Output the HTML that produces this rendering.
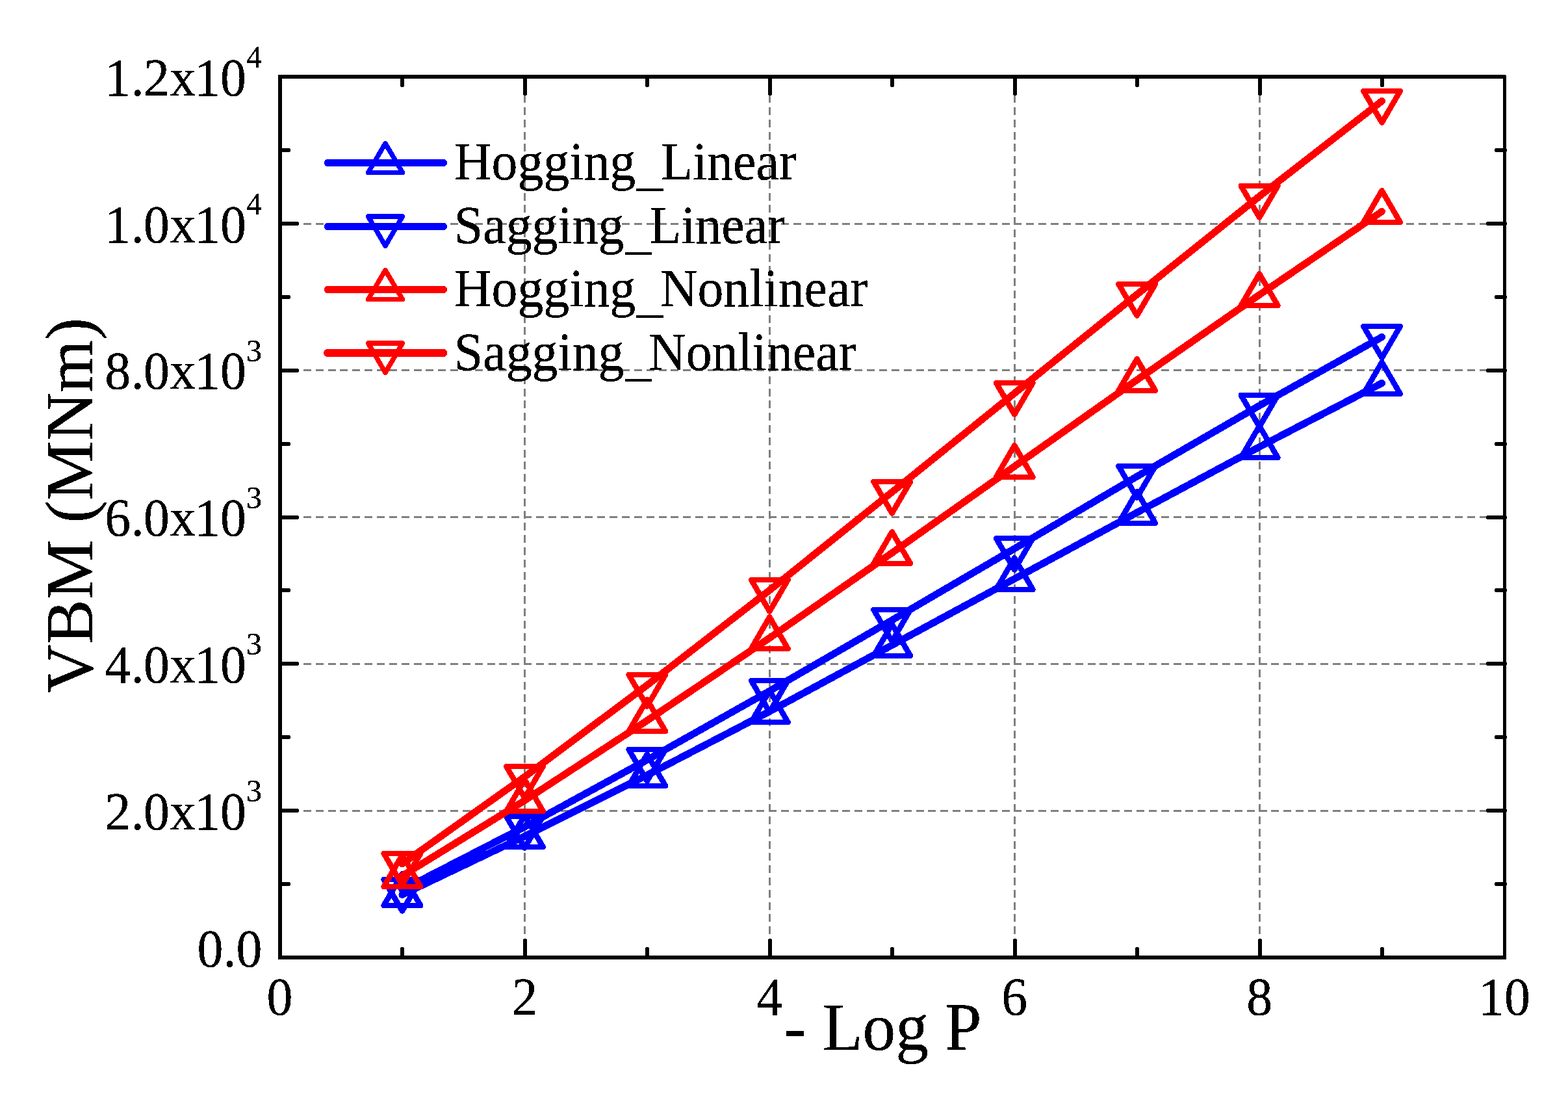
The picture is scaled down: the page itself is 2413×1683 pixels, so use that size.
<!DOCTYPE html>
<html lang="en"><head><meta charset="utf-8"><title>VBM vs - Log P</title>
<style>html,body{margin:0;padding:0;background:#fff}body{width:2413px;height:1683px;overflow:hidden}svg{display:block}text{font-family:"Liberation Serif", "DejaVu Serif", serif;fill:#000;stroke:#000;stroke-width:0.3px;stroke-linejoin:round}</style>
</head><body>
<svg width="2413" height="1683" viewBox="0 0 2413 1683" shape-rendering="crispEdges">
<defs><filter id="hard" x="0" y="0" width="2413" height="1683" filterUnits="userSpaceOnUse" color-interpolation-filters="sRGB"><feComponentTransfer><feFuncA type="discrete" tableValues="0 1"/></feComponentTransfer></filter></defs>
<rect x="0" y="0" width="2413" height="1683" fill="#fff"/>
<g stroke="#808080" stroke-width="3" fill="none">
<path stroke-dasharray="12 6.855" d="M429.1 1247.5 H2313"/>
<path stroke-dasharray="12 6.855" d="M429.1 1021.5 H2313"/>
<path stroke-dasharray="12 6.855" d="M429.1 795.5 H2313"/>
<path stroke-dasharray="12 6.855" d="M429.1 569.5 H2313"/>
<path stroke-dasharray="12 6.855" d="M429.1 344.5 H2313"/>
<path stroke-dasharray="12 6.81" d="M807.5 1474.8 V121"/>
<path stroke-dasharray="12 6.81" d="M1184.5 1474.8 V121"/>
<path stroke-dasharray="12 6.81" d="M1561.5 1474.8 V121"/>
<path stroke-dasharray="12 6.81" d="M1938.5 1474.8 V121"/>
</g>
<g stroke="#0000ff" fill="none" stroke-linejoin="round" stroke-linecap="round">
<polyline stroke-width="11" points="618.95,1376.5 807.4,1286.5 995.85,1192.5 1184.3,1094.5 1372.75,992.5 1561.2,890.5 1749.65,788.5 1938.1,687.5 2126.55,589.5"/>
<path stroke-width="8.6" d="M618.95 1344.3 L647.2 1393 L590.7 1393 Z M807.4 1254.3 L835.65 1303 L779.15 1303 Z M995.85 1160.3 L1024.1 1209 L967.6 1209 Z M1184.3 1062.3 L1212.55 1111 L1156.05 1111 Z M1372.75 960.3 L1401 1009 L1344.5 1009 Z M1561.2 858.3 L1589.45 907 L1532.95 907 Z M1749.65 756.3 L1777.9 805 L1721.4 805 Z M1938.1 655.3 L1966.35 704 L1909.85 704 Z M2126.55 557.3 L2154.8 606 L2098.3 606 Z"/>
</g>
<g stroke="#0000ff" fill="none" stroke-linejoin="round" stroke-linecap="round">
<polyline stroke-width="11" points="618.95,1369 807.4,1272 995.85,1169 1184.3,1063 1372.75,954 1561.2,844 1749.65,733 1938.1,624 2126.55,518.5"/>
<path stroke-width="8.6" d="M618.95 1401.5 L647.2 1353 L590.7 1353 Z M807.4 1304.5 L835.65 1256 L779.15 1256 Z M995.85 1201.5 L1024.1 1153 L967.6 1153 Z M1184.3 1095.5 L1212.55 1047 L1156.05 1047 Z M1372.75 986.5 L1401 938 L1344.5 938 Z M1561.2 876.5 L1589.45 828 L1532.95 828 Z M1749.65 765.5 L1777.9 717 L1721.4 717 Z M1938.1 656.5 L1966.35 608 L1909.85 608 Z M2126.55 550.5 L2154.8 502 L2098.3 502 Z"/>
</g>
<g stroke="#ff0000" fill="none" stroke-linejoin="round" stroke-linecap="round">
<polyline stroke-width="11" points="618.95,1347.5 807.4,1231.5 995.85,1108.5 1184.3,981.5 1372.75,850.5 1561.2,717.5 1749.65,584.5 1938.1,453.5 2126.55,325.4"/>
<path stroke-width="8.6" d="M618.95 1315.3 L647.2 1364 L590.7 1364 Z M807.4 1199.3 L835.65 1248 L779.15 1248 Z M995.85 1076.3 L1024.1 1125 L967.6 1125 Z M1184.3 949.3 L1212.55 998 L1156.05 998 Z M1372.75 818.3 L1401 867 L1344.5 867 Z M1561.2 685.3 L1589.45 734 L1532.95 734 Z M1749.65 552.3 L1777.9 601 L1721.4 601 Z M1938.1 421.3 L1966.35 470 L1909.85 470 Z M2126.55 293.3 L2154.8 342 L2098.3 342 Z"/>
</g>
<g stroke="#ff0000" fill="none" stroke-linejoin="round" stroke-linecap="round">
<polyline stroke-width="11" points="618.95,1329 807.4,1195 995.85,1054 1184.3,908 1372.75,757 1561.2,605 1749.65,453 1938.1,302 2126.55,155.5"/>
<path stroke-width="8.6" d="M618.95 1361.5 L647.2 1313 L590.7 1313 Z M807.4 1227.5 L835.65 1179 L779.15 1179 Z M995.85 1086.5 L1024.1 1038 L967.6 1038 Z M1184.3 940.5 L1212.55 892 L1156.05 892 Z M1372.75 789.5 L1401 741 L1344.5 741 Z M1561.2 637.5 L1589.45 589 L1532.95 589 Z M1749.65 485.5 L1777.9 437 L1721.4 437 Z M1938.1 334.5 L1966.35 286 L1909.85 286 Z M2126.55 188.5 L2154.8 140 L2098.3 140 Z"/>
</g>
<g stroke="#000" fill="none">
<path stroke-width="6" stroke-linecap="butt" d="M431 115 V1476"/>
<path stroke-width="6" stroke-linecap="butt" d="M428 118 H2317"/>
<path stroke-width="6" stroke-linecap="butt" d="M428 1473 H2318"/>
<path stroke-width="5" stroke-linecap="butt" d="M2315.5 116 V1476"/>
<path stroke-width="6" stroke-linecap="round" d="M619 1473 V1460 M619 118 V131 M808 1473 V1447 M808 118 V144 M996 1473 V1460 M996 118 V131 M1185 1473 V1447 M1185 118 V144 M1373 1473 V1460 M1373 118 V131 M1562 1473 V1447 M1562 118 V144 M1750 1473 V1460 M1750 118 V131 M1939 1473 V1447 M1939 118 V144 M2127 1473 V1460 M2127 118 V131 M431 1360 H444 M2316 1360 H2303 M431 1247 H457 M2316 1247 H2290 M431 1134 H444 M2316 1134 H2303 M431 1021 H457 M2316 1021 H2290 M431 908 H444 M2316 908 H2303 M431 796 H457 M2316 796 H2290 M431 683 H444 M2316 683 H2303 M431 570 H457 M2316 570 H2290 M431 457 H444 M2316 457 H2303 M431 344 H457 M2316 344 H2290 M431 231 H444 M2316 231 H2303"/>
</g>
<g filter="url(#hard)">
<text transform="translate(430.5 1561) scale(0.98 1)" font-size="81.5" text-anchor="middle">0</text>
<text transform="translate(807.4 1561) scale(0.98 1)" font-size="81.5" text-anchor="middle">2</text>
<text transform="translate(1184.3 1561) scale(0.98 1)" font-size="81.5" text-anchor="middle">4</text>
<text transform="translate(1561.2 1561) scale(0.98 1)" font-size="81.5" text-anchor="middle">6</text>
<text transform="translate(1938.1 1561) scale(0.98 1)" font-size="81.5" text-anchor="middle">8</text>
<text transform="translate(2315 1561) scale(0.98 1)" font-size="81.5" text-anchor="middle">10</text>
<text transform="translate(403.4 1487.3) scale(0.98 1)" font-size="81.5" text-anchor="end">0.0</text>
<text transform="translate(159.4 1275.87) scale(0.98 1)" font-size="81.5" dx="2 0.5 -0.8 0.3 -2 0">2.0x10<tspan font-size="48.9" dx="0" dy="-42.7">3</tspan></text>
<text transform="translate(159.4 1050.03) scale(0.98 1)" font-size="81.5" dx="2 0.5 -0.8 0.3 -2 0">4.0x10<tspan font-size="48.9" dx="0" dy="-42.7">3</tspan></text>
<text transform="translate(159.4 824.2) scale(0.98 1)" font-size="81.5" dx="2 0.5 -0.8 0.3 -2 0">6.0x10<tspan font-size="48.9" dx="0" dy="-42.7">3</tspan></text>
<text transform="translate(159.4 598.37) scale(0.98 1)" font-size="81.5" dx="2 0.5 -0.8 0.3 -2 0">8.0x10<tspan font-size="48.9" dx="0" dy="-42.7">3</tspan></text>
<text transform="translate(159.4 372.53) scale(0.98 1)" font-size="81.5" dx="2 0.5 -0.8 0.3 -2 0">1.0x10<tspan font-size="48.9" dx="0" dy="-42.7">4</tspan></text>
<text transform="translate(159.4 146.7) scale(0.98 1)" font-size="81.5" dx="2 0.5 -0.8 0.3 -2 0">1.2x10<tspan font-size="48.9" dx="0" dy="-42.7">4</tspan></text>
<text transform="translate(1206.6 1614.7) scale(0.98 1)" font-size="103.4" text-anchor="start">- Log P</text>
<text transform="translate(142.1 1066.0) rotate(-90)" font-size="103.4">VBM (MNm)</text>
<g stroke="#0000ff" fill="none" stroke-linejoin="round" stroke-linecap="round">
<path stroke-width="11" d="M504.2 250.5 H682.6"/>
<path stroke-width="7.5" d="M593 220.55 L619.4 265.5 L566.6 265.5 Z"/>
</g>
<text transform="translate(698.8 276.4) scale(0.98 1)" font-size="81.5" text-anchor="start">Hogging<tspan dx="1.9" dy="6.6">_</tspan><tspan dx="-3.0" dy="-6.6">Linear</tspan></text>
<g stroke="#0000ff" fill="none" stroke-linejoin="round" stroke-linecap="round">
<path stroke-width="11" d="M504.2 348.5 H682.6"/>
<path stroke-width="7.5" d="M593 378.25 L619.4 333 L566.6 333 Z"/>
</g>
<text transform="translate(698.8 373.9) scale(0.98 1)" font-size="81.5" text-anchor="start">Sagging<tspan dx="1.9" dy="6.6">_</tspan><tspan dx="-3.0" dy="-6.6">Linear</tspan></text>
<g stroke="#ff0000" fill="none" stroke-linejoin="round" stroke-linecap="round">
<path stroke-width="11" d="M504.2 445.5 H682.6"/>
<path stroke-width="7.5" d="M593 415.55 L619.4 460.5 L566.6 460.5 Z"/>
</g>
<text transform="translate(698.8 471.2) scale(0.98 1)" font-size="81.5" text-anchor="start">Hogging<tspan dx="1.9" dy="6.6">_</tspan><tspan dx="-4.4" dy="-6.6">Nonlinear</tspan></text>
<g stroke="#ff0000" fill="none" stroke-linejoin="round" stroke-linecap="round">
<path stroke-width="12" d="M504.2 543 H682.6"/>
<path stroke-width="7.5" d="M593 573.25 L619.4 528 L566.6 528 Z"/>
</g>
<text transform="translate(698.8 569.1) scale(0.98 1)" font-size="81.5" text-anchor="start">Sagging<tspan dx="1.9" dy="6.6">_</tspan><tspan dx="-4.4" dy="-6.6">Nonlinear</tspan></text>
</g>
</svg>
</body></html>
